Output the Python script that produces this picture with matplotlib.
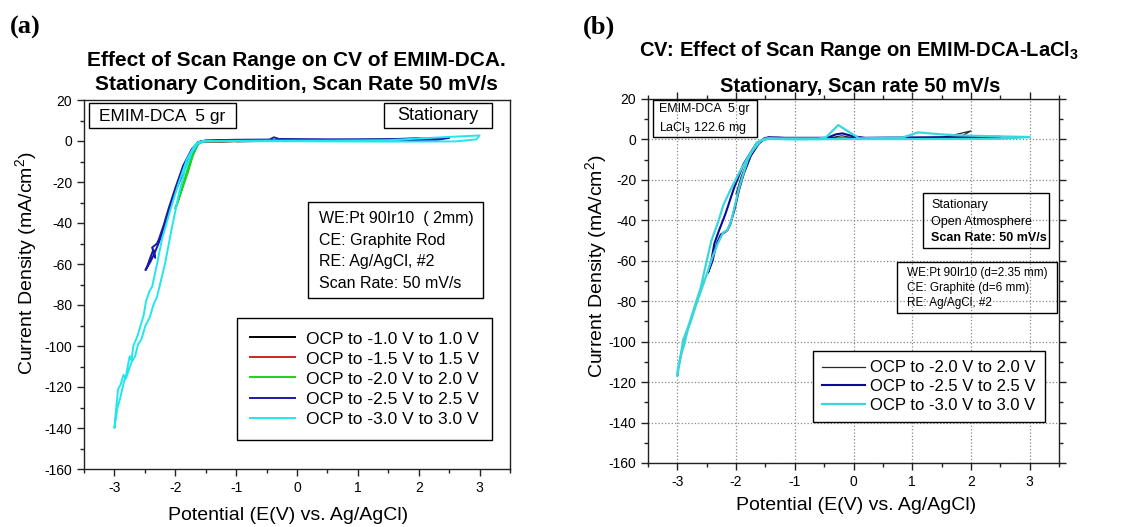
import numpy as np
import matplotlib.pyplot as plt
from matplotlib.patches import Rectangle
from matplotlib.ticker import MultipleLocator

plt.rcParams['font.family'] = ['Liberation Sans', 'DejaVu Sans']
plt.rcParams['axes.unicode_minus'] = False
plt.rcParams['mathtext.fontset'] = 'custom'
plt.rcParams['mathtext.rm'] = 'Liberation Sans'
plt.rcParams['mathtext.it'] = 'Liberation Sans:italic'
plt.rcParams['mathtext.bf'] = 'Liberation Sans:bold'

W, H = 1131, 527

##data, panel (a)##
a_labels = ["OCP to -1.0 V to 1.0 V", "OCP to -1.5 V to 1.5 V", "OCP to -2.0 V to 2.0 V",
            "OCP to -2.5 V to 2.5 V", "OCP to -3.0 V to 3.0 V"]
a_colors = ["#000000", "#d42020", "#20d020", "#1a1aa8", "#22e6ee"]

a_e_10 = [-0.2, -0.6, -1.0, -0.5, 0.0, 0.5, 1.0, 0.5, 0.0, -0.2]
a_j_10 = [0.1, 0.0, -0.1, 0.0, 0.1, 0.2, 0.4, 0.1, 0.0, 0.1]

a_e_15 = [-0.2, -1.0, -1.5, -1.0, -0.4, 0.4, 1.0, 1.5, 1.0, 0.2, -0.2]
a_j_15 = [0.2, 0.0, -0.5, -0.1, 0.4, 0.3, 0.3, 0.6, 0.2, 0.1, 0.2]

a_e_20 = [-0.2, -1.0, -1.5, -1.62, -1.71, -1.79, -1.86, -1.93, -2.0,
          -1.95, -1.88, -1.80, -1.72, -1.64, -1.55, -1.0, 0.0, 1.0, 1.5, 2.0, 1.5, 0.5, -0.2]
a_j_20 = [0.3, 0.0, -0.2, -1, -7, -15, -21, -27, -33,
          -29, -22, -14, -7, -2, 0, 0.2, 0.4, 0.5, 0.9, 1.3, 0.5, 0.2, 0.3]

a_e_25 = [-0.2, -1.0, -1.5, -1.62, -1.76, -1.92, -2.03, -2.14, -2.25, -2.33, -2.41, -2.49,
          -2.46, -2.40, -2.36, -2.33, -2.38, -2.30, -2.27, -2.19, -2.11, -2.0, -1.87, -1.73, -1.62, -1.5,
          -1.0, -0.45, -0.38, -0.3, 0.5, 1.5, 2.0, 2.5, 2.3, 1.5, 0.5, -0.2]
a_j_25 = [0.3, 0.2, 0.0, -0.5, -7.5, -19, -27, -38, -48, -54, -59, -63,
          -61, -56, -53, -57, -52, -50, -48, -41, -33, -23, -12, -4, -0.5, 0.3,
          0.6, 0.7, 1.8, 1.0, 0.8, 0.9, 1.2, 1.5, 0.6, 0.3, 0.2, 0.3]

a_e_30 = [-0.2, -1.0, -1.5, -1.62, -1.73, -1.84, -1.95, -2.06, -2.17, -2.30, -2.36, -2.42,
          -2.49, -2.56, -2.61, -2.66, -2.72, -2.80, -2.84, -2.91, -2.95, -3.0,
          -2.98, -2.94, -2.90, -2.85, -2.82, -2.75, -2.72, -2.69, -2.62, -2.56, -2.52, -2.48,
          -2.42, -2.38, -2.30, -2.22, -2.085, -1.95, -1.81, -1.68, -1.55, -1.0, -0.5, 0.5,
          1.5, 2.0, 2.5, 3.0, 2.95, 2.6, 1.5, 0.5, -0.2]
a_j_30 = [-0.1, -0.1, -0.2, -0.5, -6, -14, -27, -43, -60, -76, -80, -86,
          -90, -97, -99, -105, -108, -115, -117, -126, -130, -140,
          -133, -121, -119, -114, -116, -105, -107, -100, -95, -89, -85, -78,
          -73, -71, -60, -48, -34, -21, -9, -2, 0, 0.1, 0.2, 0.2,
          0.4, 1.2, 2.0, 2.7, 0.8, -0.2, -0.3, -0.2, -0.1]

##data, panel (b)##
b_labels = ["OCP to -2.0 V to 2.0 V", "OCP to -2.5 V to 2.5 V", "OCP to -3.0 V to 3.0 V"]
b_colors = ["#2a2a2a", "#0a0a96", "#3ad6dc"]

b_e_20 = [-0.3, -1.0, -1.45, -1.55, -1.66, -1.80, -1.92, -2.0,
          -1.97, -1.88, -1.76, -1.63, -1.52, -1.3, -0.6, -0.4, -0.2, 0.0, 0.5, 1.0,
          1.5, 1.75, 2.0, 1.8, 1.0, 0.0, -0.3]
b_j_20 = [0.3, 0.3, 0.5, -0.5, -3, -10, -19, -27,
          -26, -18, -9, -2, 0.8, 1.0, 0.5, 0.8, 1.8, 0.8, 0.6, 0.8,
          1.0, 2.5, 4.2, 1.0, 0.3, 0.3, 0.3]

b_e_25 = [-0.3, -1.0, -1.45, -1.55, -1.66, -1.87, -2.03, -2.18, -2.29, -2.37, -2.42, -2.48,
          -2.40, -2.37, -2.32, -2.26, -2.20, -2.15, -2.10, -2.03, -1.95, -1.87, -1.75, -1.61, -1.5,
          -1.0, -0.45, -0.3, -0.19, 0.0, 0.2, 1.0, 2.0, 2.5, 2.3, 1.0, -0.3]
b_j_25 = [0.5, 0.5, 1.0, -0.3, -2.3, -12, -23.6, -36.7, -45, -51.5, -59.7, -66,
          -60, -56, -51, -47, -46, -45, -42, -35, -25, -17, -8, -2, 0.8,
          0.8, 0.8, 2.5, 3.0, 1.5, 0.8, 1.0, 1.2, 1.3, 0.6, 0.5, 0.5]

b_e_30 = [-0.3, -1.0, -1.45, -1.58, -1.76, -1.92, -2.08, -2.21, -2.32, -2.42, -2.5, -2.6,
          -2.71, -2.82, -2.9, -2.95, -3.0,
          -2.99, -2.94, -2.88, -2.82, -2.76, -2.66, -2.55, -2.48, -2.40, -2.32, -2.22, -2.15,
          -2.08, -1.95, -1.80, -1.65, -1.5, -0.6, -0.47, -0.26, 0.1, 0.84, 1.1, 1.5, 1.8,
          2.5, 3.0, 2.5, 1.0, -0.3]
b_j_30 = [0.2, 0.0, 0.3, -0.7, -7, -15, -24, -32, -42, -50, -60, -73,
          -83, -93, -99, -108, -117,
          -113, -107, -101, -94, -89, -80, -71, -65, -58, -52, -46, -45,
          -40, -24, -10, -1.5, 0.5, 0.5, 1.0, 7.1, 0.5, 1.0, 3.5, 2.5, 2.0,
          1.5, 1.2, 0.3, 0.2, 0.2]


def fx(px):
    return px / W


def fy(py):
    return 1 - py / H


def box(fig, x0, y0, x1, y1):
    fig.add_artist(Rectangle((fx(x0), fy(y1)), fx(x1) - fx(x0), fy(y0) - fy(y1),
                             transform=fig.transFigure, fill=False, edgecolor="black", linewidth=1))


def setup_axes(ax, mirror):
    ax.set_xlim(-3.5, 3.5)
    ax.set_ylim(-160, 20)
    ax.xaxis.set_major_locator(MultipleLocator(1))
    ax.xaxis.set_minor_locator(MultipleLocator(0.5))
    ax.yaxis.set_major_locator(MultipleLocator(20))
    ax.yaxis.set_minor_locator(MultipleLocator(10))
    ax.tick_params(which="major", direction="out", length=5, width=1, labelsize=10,
                   top=mirror, right=mirror, color="#222222")
    ax.tick_params(which="minor", direction="out", length=3, width=1,
                   top=mirror, right=mirror, color="#222222")
    for s in ax.spines.values():
        s.set_linewidth(1)
        s.set_color("#222222")


fig = plt.figure(figsize=(W / 100, H / 100), dpi=100)

##panel (a)##
ax1 = fig.add_axes([fx(84), fy(469), (510 - 84) / W, (469 - 100) / H])
setup_axes(ax1, False)
a_e = [a_e_10, a_e_15, a_e_20, a_e_25, a_e_30]
a_j = [a_j_10, a_j_15, a_j_20, a_j_25, a_j_30]
for e, j, c, lab in zip(a_e, a_j, a_colors, a_labels):
    ax1.plot(e, j, color=c, linewidth=1.4, label=lab)

leg1 = ax1.legend(loc="center", bbox_to_anchor=(fx(364.5), fy(379)), bbox_transform=fig.transFigure,
                  fontsize=12.5, fancybox=False, edgecolor="black", framealpha=1,
                  handlelength=2.6, labelspacing=0.28, borderpad=0.75, handletextpad=0.6)
leg1.get_frame().set_linewidth(1)

fig.text(fx(10), fy(27), "(a)", fontsize=19, weight="bold", family="Liberation Serif", va="center")
fig.text(fx(296), fy(61), "Effect of Scan Range on CV of EMIM-DCA.", fontsize=15, weight="bold",
         ha="center", va="center")
fig.text(fx(296), fy(84), "Stationary Condition, Scan Rate 50 mV/s", fontsize=15, weight="bold",
         ha="center", va="center")
fig.text(fx(288), fy(515), "Potential (E(V) vs. Ag/AgCl)", fontsize=14, ha="center", va="center")
fig.text(fx(26), fy(263), "Current Density (mA/cm$^2$)", fontsize=14, ha="center", va="center",
         rotation=90)

box(fig, 89, 103, 236, 128)
fig.text(fx(162), fy(116), "EMIM-DCA  5 gr", fontsize=12.5, ha="center", va="center")
box(fig, 384, 103, 492, 128)
fig.text(fx(438), fy(116), "Stationary", fontsize=13, ha="center", va="center")
box(fig, 308, 202, 483, 298)
for t, py in zip(["WE:Pt 90Ir10  ( 2mm)", "CE: Graphite Rod", "RE: Ag/AgCl, #2", "Scan Rate: 50 mV/s"],
                 [219, 241, 262, 283]):
    fig.text(fx(319), fy(py), t, fontsize=11.5, va="center")

##panel (b)##
ax2 = fig.add_axes([fx(648), fy(463), (1059 - 648) / W, (463 - 99) / H])
setup_axes(ax2, True)
ax2.grid(True, which="major", linestyle=":", color="#888888", linewidth=0.9)
b_e = [b_e_20, b_e_25, b_e_30]
b_j = [b_j_20, b_j_25, b_j_30]
b_lw = [0.9, 1.5, 1.6]
for e, j, c, lab, lw in zip(b_e, b_j, b_colors, b_labels, b_lw):
    ax2.plot(e, j, color=c, linewidth=lw, label=lab)

leg2 = ax2.legend(loc="center", bbox_to_anchor=(fx(929), fy(386.5)), bbox_transform=fig.transFigure,
                  fontsize=12, fancybox=False, edgecolor="black", framealpha=1,
                  handlelength=2.6, labelspacing=0.22, borderpad=0.55, handletextpad=0.3)
leg2.get_frame().set_linewidth(1)

fig.text(fx(583), fy(27), "(b)", fontsize=19, weight="bold", family="Liberation Serif", va="center")
fig.text(fx(859), fy(51), r"CV: Effect of Scan Range on EMIM-DCA-LaCl$_\mathbf{3}$", fontsize=14.5,
         weight="bold", ha="center", va="center")
fig.text(fx(860), fy(87), "Stationary, Scan rate 50 mV/s", fontsize=14.5, weight="bold",
         ha="center", va="center")
fig.text(fx(856), fy(505), "Potential (E(V) vs. Ag/AgCl)", fontsize=14, ha="center", va="center")
fig.text(fx(596), fy(266), "Current Density (mA/cm$^2$)", fontsize=14, ha="center", va="center",
         rotation=90)

box(fig, 653, 100, 757, 137)
fig.text(fx(659), fy(109), "EMIM-DCA  5 gr", fontsize=9, va="center")
fig.text(fx(659), fy(128), "LaCl$_3$ 122.6 mg", fontsize=9, va="center")
box(fig, 923, 193, 1049, 248)
fig.text(fx(931), fy(205), "Stationary", fontsize=9, va="center")
fig.text(fx(931), fy(222), "Open Atmosphere", fontsize=9, va="center")
fig.text(fx(931), fy(238), "Scan Rate: 50 mV/s", fontsize=9, va="center", weight="bold")
box(fig, 897, 262, 1057, 313)
for t, py in zip(["WE:Pt 90Ir10 (d=2.35 mm)", "CE: Graphite (d=6 mm)", "RE: Ag/AgCl, #2"],
                 [273, 288, 303]):
    fig.text(fx(907), fy(py), t, fontsize=8.5, va="center")

fig.savefig("out.png", dpi=100)
